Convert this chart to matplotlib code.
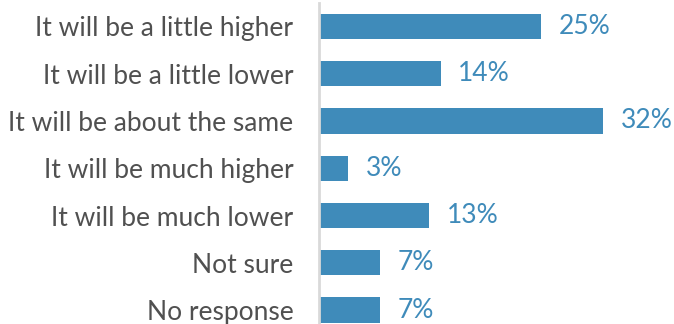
import matplotlib.pyplot as plt

labels = ['It will be a little higher', 'It will be a little lower',
          'It will be about the same', 'It will be much higher',
          'It will be much lower', 'Not sure', 'No response']
# bar lengths, labels as printed
values = [25, 13.7, 32, 3.3, 12.4, 6.9, 6.9]
value_labels = ['25%', '14%', '32%', '3%', '13%', '7%', '7%']

bar_color = '#3F8BBA'
text_color = '#505050'

plt.rcParams['font.family'] = ['Lato', 'DejaVu Sans']

fig = plt.figure(figsize=(6.74, 3.24), dpi=100)
ax = fig.add_axes([319 / 674, 0, 1 - 319 / 674, 321 / 324])

y = list(range(len(labels)))
ax.barh(y, values, height=0.53, color=bar_color)

for yi, v, s in zip(y, values, value_labels):
    ax.text(v + 2.0, yi, s, va='center', ha='left',
            fontsize=19, color=bar_color)

ax.set_yticks(y)
ax.set_yticklabels(labels, fontsize=19, color=text_color)
ax.tick_params(axis='y', length=0, pad=18.5)
ax.set_xticks([])
ax.set_xlim(0, 40)
ax.set_ylim(6.296, -0.497)

for side in ['top', 'right', 'bottom']:
    ax.spines[side].set_visible(False)
ax.spines['left'].set_color('#D9D9D9')
ax.spines['left'].set_linewidth(2)

fig.savefig('out.png', dpi=100)
